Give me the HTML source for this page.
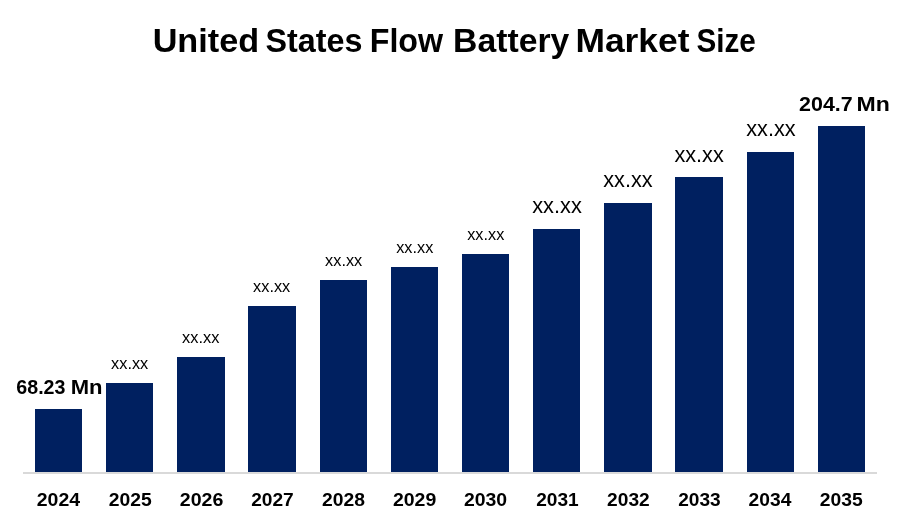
<!DOCTYPE html><html><head><meta charset="utf-8"><title>United States Flow Battery Market Size</title>
<style>html,body{margin:0;padding:0;background:#fff}body{width:900px;height:525px;overflow:hidden}svg{display:block}text{font-family:"Liberation Sans",sans-serif;fill:#000}.b{font-weight:700}</style></head><body>
<svg width="900" height="525" viewBox="0 0 900 525">
<rect width="900" height="525" fill="#fff"/>
<rect x="23" y="472" width="854" height="2" fill="#d9d9d9"/>
<g fill="#002060">
<rect x="35" y="409" width="47" height="63"/>
<rect x="106" y="383" width="47" height="89"/>
<rect x="177" y="357" width="48" height="115"/>
<rect x="248" y="306" width="48" height="166"/>
<rect x="320" y="280" width="47" height="192"/>
<rect x="391" y="267" width="47" height="205"/>
<rect x="462" y="254" width="47" height="218"/>
<rect x="533" y="229" width="47" height="243"/>
<rect x="604" y="203" width="48" height="269"/>
<rect x="675" y="177" width="48" height="295"/>
<rect x="747" y="152" width="47" height="320"/>
<rect x="818" y="126" width="47" height="346"/>
</g>
<text class="b" x="152.65" y="51.70" font-size="33.90" textLength="106.44" lengthAdjust="spacingAndGlyphs">United</text>
<text class="b" x="265.55" y="51.70" font-size="33.90" textLength="96.90" lengthAdjust="spacingAndGlyphs">States</text>
<text class="b" x="369.75" y="51.70" font-size="33.90" textLength="73.32" lengthAdjust="spacingAndGlyphs">Flow</text>
<text class="b" x="453.10" y="51.70" font-size="33.90" textLength="116.15" lengthAdjust="spacingAndGlyphs">Battery</text>
<text class="b" x="575.40" y="51.70" font-size="33.90" textLength="114.12" lengthAdjust="spacingAndGlyphs">Market</text>
<text class="b" x="696.55" y="51.70" font-size="33.90" textLength="59.32" lengthAdjust="spacingAndGlyphs">Size</text>
<text class="b" y="393.90" font-size="20.00"><tspan x="16.30" textLength="49.14" lengthAdjust="spacingAndGlyphs">68.23</tspan> <tspan x="70.65" textLength="31.82" lengthAdjust="spacingAndGlyphs">Mn</tspan></text>
<text x="111.10" y="368.90" font-size="16.90" textLength="37.16" lengthAdjust="spacingAndGlyphs">xx.xx</text>
<text x="182.05" y="343.10" font-size="16.90" textLength="37.36" lengthAdjust="spacingAndGlyphs">xx.xx</text>
<text x="253.10" y="292.10" font-size="16.90" textLength="37.16" lengthAdjust="spacingAndGlyphs">xx.xx</text>
<text x="325.05" y="266.20" font-size="16.90" textLength="37.21" lengthAdjust="spacingAndGlyphs">xx.xx</text>
<text x="396.25" y="253.10" font-size="16.90" textLength="37.01" lengthAdjust="spacingAndGlyphs">xx.xx</text>
<text x="467.25" y="240.00" font-size="16.90" textLength="37.01" lengthAdjust="spacingAndGlyphs">xx.xx</text>
<text x="532.20" y="212.70" font-size="21.80" textLength="49.62" lengthAdjust="spacingAndGlyphs">xx.xx</text>
<text x="603.25" y="186.80" font-size="21.80" textLength="49.36" lengthAdjust="spacingAndGlyphs">xx.xx</text>
<text x="674.40" y="161.90" font-size="21.80" textLength="49.36" lengthAdjust="spacingAndGlyphs">xx.xx</text>
<text x="746.25" y="135.70" font-size="21.80" textLength="49.36" lengthAdjust="spacingAndGlyphs">xx.xx</text>
<text class="b" y="110.80" font-size="20.90"><tspan x="799.10" textLength="53.61" lengthAdjust="spacingAndGlyphs">204.7</tspan> <tspan x="856.50" textLength="33.33" lengthAdjust="spacingAndGlyphs">Mn</tspan></text>
<text class="b" x="36.75" y="506.00" font-size="18.70" textLength="43.32" lengthAdjust="spacingAndGlyphs">2024</text>
<text class="b" x="108.75" y="506.00" font-size="18.70" textLength="43.00" lengthAdjust="spacingAndGlyphs">2025</text>
<text class="b" x="179.75" y="506.00" font-size="18.70" textLength="43.56" lengthAdjust="spacingAndGlyphs">2026</text>
<text class="b" x="251.15" y="506.00" font-size="18.70" textLength="42.64" lengthAdjust="spacingAndGlyphs">2027</text>
<text class="b" x="322.10" y="506.00" font-size="18.70" textLength="43.00" lengthAdjust="spacingAndGlyphs">2028</text>
<text class="b" x="392.95" y="506.00" font-size="18.70" textLength="43.35" lengthAdjust="spacingAndGlyphs">2029</text>
<text class="b" x="463.95" y="506.00" font-size="18.70" textLength="43.20" lengthAdjust="spacingAndGlyphs">2030</text>
<text class="b" x="536.15" y="506.00" font-size="18.70" textLength="42.53" lengthAdjust="spacingAndGlyphs">2031</text>
<text class="b" x="607.10" y="506.00" font-size="18.70" textLength="42.65" lengthAdjust="spacingAndGlyphs">2032</text>
<text class="b" x="678.25" y="506.00" font-size="18.70" textLength="42.50" lengthAdjust="spacingAndGlyphs">2033</text>
<text class="b" x="748.60" y="506.00" font-size="18.70" textLength="42.76" lengthAdjust="spacingAndGlyphs">2034</text>
<text class="b" x="819.80" y="506.00" font-size="18.70" textLength="42.94" lengthAdjust="spacingAndGlyphs">2035</text>
</svg></body></html>
